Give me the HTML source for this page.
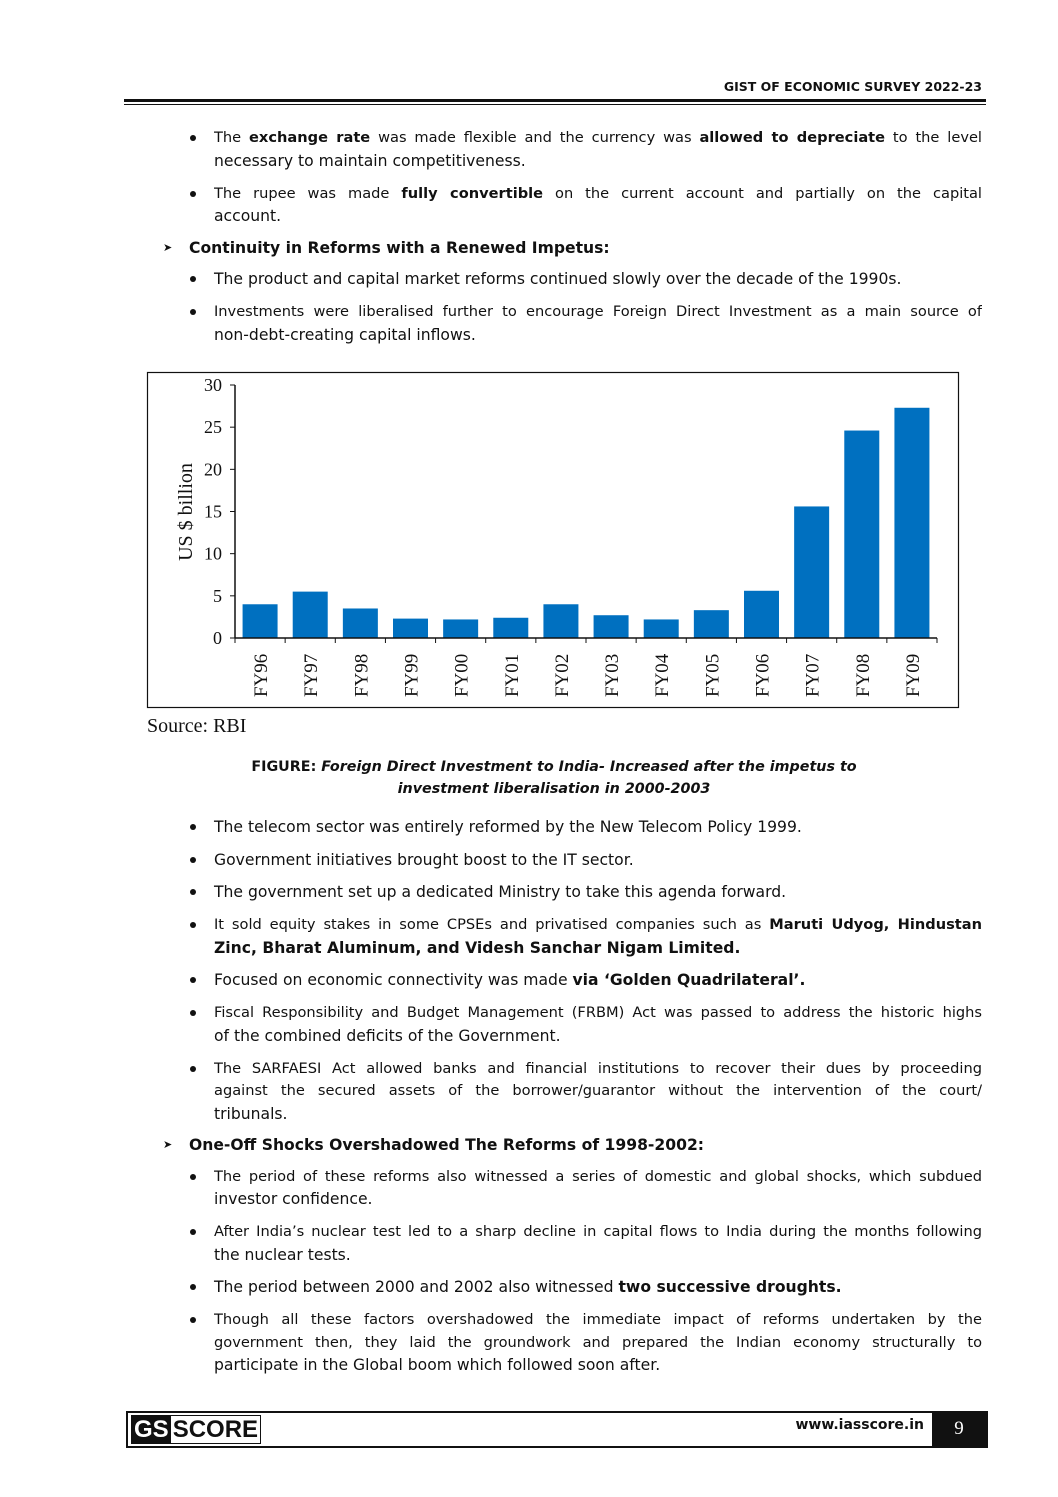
<!DOCTYPE html>
<html><head><meta charset="utf-8">
<style>
body{margin:0;background:#fff;}
#page{position:relative;width:1058px;height:1497px;overflow:hidden;background:#fff;font-family:"DejaVu Sans","Liberation Sans",sans-serif;color:#111;}
.l{position:absolute;left:214px;width:768px;height:22px;line-height:22px;font-size:15.6px;white-space:nowrap;}
.j{text-align:justify;text-align-last:justify;white-space:normal;font-size:14.6px;overflow:hidden;}
.b{position:absolute;left:190px;width:6px;height:6px;border-radius:50%;background:#111;}
.a{position:absolute;left:163px;font-size:11px;line-height:22px;}
.h{left:189px;font-weight:bold;}
</style></head><body>
<div id="page">
<div style="position:absolute;right:76px;top:79px;font-size:12.5px;font-weight:bold;">GIST OF ECONOMIC SURVEY 2022-23</div>
<div style="position:absolute;left:124px;width:862px;top:99px;height:3px;background:#111;"></div>
<div style="position:absolute;left:124px;width:862px;top:104px;height:1px;background:#111;"></div>

<div class="b" style="top:135px"></div>
<div class="l j" style="top:127px">The <b>exchange rate</b> was made flexible and the currency was <b>allowed to depreciate</b> to the level</div>
<div class="l" style="top:150px">necessary to maintain competitiveness.</div>
<div class="b" style="top:191px"></div>
<div class="l j" style="top:183px">The rupee was made <b>fully convertible</b> on the current account and partially on the capital</div>
<div class="l" style="top:205px">account.</div>
<div class="a" style="top:237px">➤</div>
<div class="l h" style="top:237px">Continuity in Reforms with a Renewed Impetus:</div>
<div class="b" style="top:276px"></div>
<div class="l" style="top:268px">The product and capital market reforms continued slowly over the decade of the 1990s.</div>
<div class="b" style="top:309px"></div>
<div class="l j" style="top:301px">Investments were liberalised further to encourage Foreign Direct Investment as a main source of</div>
<div class="l" style="top:324px">non-debt-creating capital inflows.</div>

<svg id="chart" style="position:absolute;left:0;top:0" width="1058" height="760"></svg>
<div style="position:absolute;left:147px;top:715px;font-family:'Liberation Serif',serif;font-size:20px;">Source: RBI</div>
<div style="position:absolute;left:150px;width:808px;top:756px;text-align:center;font-size:14.3px;line-height:22px;font-weight:bold;"><span>FIGURE: </span><i>Foreign Direct Investment to India- Increased after the impetus to<br>investment liberalisation in 2000-2003</i></div>

<div class="b" style="top:824px"></div>
<div class="l" style="top:816px">The telecom sector was entirely reformed by the New Telecom Policy 1999.</div>
<div class="b" style="top:857px"></div>
<div class="l" style="top:849px">Government initiatives brought boost to the IT sector.</div>
<div class="b" style="top:889px"></div>
<div class="l" style="top:881px">The government set up a dedicated Ministry to take this agenda forward.</div>
<div class="b" style="top:922px"></div>
<div class="l j" style="top:914px">It sold equity stakes in some CPSEs and privatised companies such as <b>Maruti Udyog, Hindustan</b></div>
<div class="l" style="top:937px"><b>Zinc, Bharat Aluminum, and Videsh Sanchar Nigam Limited.</b></div>
<div class="b" style="top:977px"></div>
<div class="l" style="top:969px">Focused on economic connectivity was made <b>via ‘Golden Quadrilateral’.</b></div>
<div class="b" style="top:1010px"></div>
<div class="l j" style="top:1002px">Fiscal Responsibility and Budget Management (FRBM) Act was passed to address the historic highs</div>
<div class="l" style="top:1025px">of the combined deficits of the Government.</div>
<div class="b" style="top:1066px"></div>
<div class="l j" style="top:1058px">The SARFAESI Act allowed banks and financial institutions to recover their dues by proceeding</div>
<div class="l j" style="top:1080px">against the secured assets of the borrower/guarantor without the intervention of the court/</div>
<div class="l" style="top:1103px">tribunals.</div>
<div class="a" style="top:1134px">➤</div>
<div class="l h" style="top:1134px">One-Off Shocks Overshadowed The Reforms of 1998-2002:</div>
<div class="b" style="top:1174px"></div>
<div class="l j" style="top:1166px">The period of these reforms also witnessed a series of domestic and global shocks, which subdued</div>
<div class="l" style="top:1188px">investor confidence.</div>
<div class="b" style="top:1229px"></div>
<div class="l j" style="top:1221px">After India’s nuclear test led to a sharp decline in capital flows to India during the months following</div>
<div class="l" style="top:1244px">the nuclear tests.</div>
<div class="b" style="top:1284px"></div>
<div class="l" style="top:1276px">The period between 2000 and 2002 also witnessed <b>two successive droughts.</b></div>
<div class="b" style="top:1317px"></div>
<div class="l j" style="top:1309px">Though all these factors overshadowed the immediate impact of reforms undertaken by the</div>
<div class="l j" style="top:1332px">government then, they laid the groundwork and prepared the Indian economy structurally to</div>
<div class="l" style="top:1354px">participate in the Global boom which followed soon after.</div>

<div style="position:absolute;left:126px;top:1411px;width:858px;height:33px;border:2px solid #111;"></div>
<div style="position:absolute;left:131px;top:1415px;height:27px;border:1px solid #111;display:flex;font-family:'Liberation Sans',sans-serif;font-weight:bold;font-size:24px;line-height:27px;">
<span style="background:#111;color:#fff;padding:0 2px;">GS</span><span style="padding:0 2px;">SCORE</span></div>
<div style="position:absolute;right:134px;top:1417px;font-size:14px;font-weight:bold;">www.iasscore.in</div>
<div style="position:absolute;left:932px;top:1411px;width:54px;height:37px;background:#111;color:#fff;font-family:'Liberation Serif',serif;font-size:19px;text-align:center;line-height:36px;">9</div>
</div>
<script>
const categories=["FY96","FY97","FY98","FY99","FY00","FY01","FY02","FY03","FY04","FY05","FY06","FY07","FY08","FY09"];
const fdiValues=[4.0,5.5,3.5,2.3,2.2,2.4,4.0,2.7,2.2,3.3,5.6,15.6,24.6,27.3];
const yTicks=[0,5,10,15,20,25,30];
const svg=document.getElementById('chart');
const NS='http://www.w3.org/2000/svg';
const x0=235,x1=937,y0=638,y1=385,yMax=30;
const step=(x1-x0)/categories.length;
const ys=v=>y0-(v/yMax)*(y0-y1);
function mk(t,a){const e=document.createElementNS(NS,t);for(const k in a)e.setAttribute(k,a[k]);svg.appendChild(e);return e;}
const frame=mk('rect',{x:147.5,y:372.5,width:811,height:335,fill:'none',stroke:'#111','stroke-width':1.2});


categories.forEach((c,i)=>{
  const bw=35,cx=x0+step*(i+0.5);
  const r=mk('rect',{x:cx-bw/2,y:ys(fdiValues[i]),width:bw,height:y0-ys(fdiValues[i]),fill:'#0070c0'});
  
  
  const t=mk('text',{x:0,y:0,transform:`translate(${cx+7},697) rotate(-90)`,'font-family':'Liberation Serif,serif','font-size':19,fill:'#111'});
  t.textContent=c;
  
  
});
for(let i=0;i<=categories.length;i++){const x=x0+step*i;mk('line',{x1:x,x2:x,y1:y0,y2:y0+5,stroke:'#111'});}
mk('line',{x1:x0,x2:x1,y1:y0,y2:y0,stroke:'#111','stroke-width':1.5});
mk('line',{x1:x0,x2:x0,y1:y1,y2:y0,stroke:'#111','stroke-width':1.5});
yTicks.forEach(v=>{
  mk('line',{x1:x0-5,x2:x0,y1:ys(v),y2:ys(v),stroke:'#111'});
  const t=mk('text',{x:x0-13,y:ys(v)+6,'text-anchor':'end','font-family':'Liberation Serif,serif','font-size':18,fill:'#111'});
  t.textContent=v;
  
  
});
const yt=mk('text',{x:0,y:0,transform:'translate(192,512) rotate(-90)','text-anchor':'middle','font-family':'Liberation Serif,serif','font-size':20,fill:'#111'});
yt.textContent='US $ billion';


</script>
</body></html>
